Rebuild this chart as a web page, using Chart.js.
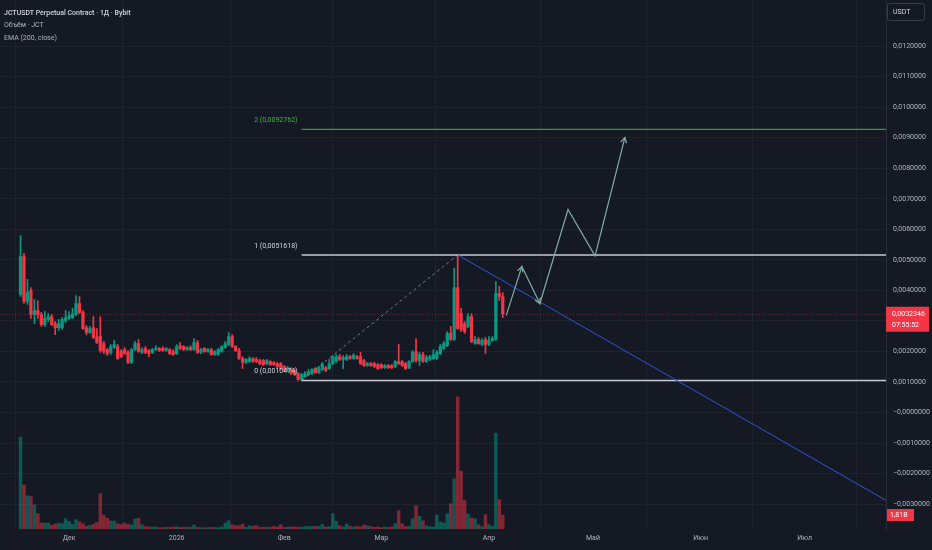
<!DOCTYPE html>
<html>
<head>
<meta charset="utf-8">
<script src="https://cdn.jsdelivr.net/npm/chart.js@4.4.1/dist/chart.umd.min.js"></script>
<style>
  html, body { margin: 0; padding: 0; background: #151924; }
  #wrap { position: relative; width: 932px; height: 550px; overflow: hidden; }
  canvas { display: block; }
  .leg { position: absolute; left: 4px; font-family: Roboto, sans-serif; font-size: 7px; line-height: 10px; color: #b2b5be; white-space: nowrap; }
  .leg.title { color: #d1d4dc; font-weight: 500; }
  #usdt { position: absolute; left: 887px; top: 3px; width: 38px; height: 18px; box-sizing: border-box;
          border: 1px solid #363a45; border-radius: 3px; font-family: Roboto, sans-serif; font-size: 7px;
          line-height: 16px; color: #d1d4dc; padding-left: 5px; }
</style>
</head>
<body>
<div id="wrap">
  <canvas id="chart" width="932" height="550"></canvas>
  <div class="leg title" style="top:8px">JCTUSDT Perpetual Contract · 1Д · Bybit</div>
  <div class="leg" style="top:20px">Объём · JCT</div>
  <div class="leg" style="top:33px">EMA (200, close)</div>
  <div id="usdt">USDT</div>
</div>
<script>
// daily candles, day 0 = 17 Nov 2025
const open = [
  0.00387, 0.00511, 0.00364, 0.00400, 0.00321, 0.00334, 0.00321, 0.00288, 0.00305, 0.00314,
  0.00291, 0.00278, 0.00278, 0.00301, 0.00308, 0.00311, 0.00321, 0.00357, 0.00328, 0.00278,
  0.00262, 0.00278, 0.00249, 0.00249, 0.00226, 0.00206, 0.00197, 0.00213, 0.00216, 0.00200,
  0.00206, 0.00197, 0.00164, 0.00206, 0.00226, 0.00197, 0.00210, 0.00203, 0.00197, 0.00206,
  0.00210, 0.00210, 0.00203, 0.00206, 0.00200, 0.00193, 0.00219, 0.00216, 0.00206, 0.00213,
  0.00206, 0.00229, 0.00197, 0.00210, 0.00200, 0.00206, 0.00190, 0.00190, 0.00200, 0.00213,
  0.00223, 0.00249, 0.00216, 0.00203, 0.00177, 0.00164, 0.00167, 0.00177, 0.00174, 0.00170,
  0.00170, 0.00160, 0.00167, 0.00164, 0.00160, 0.00160, 0.00151, 0.00138, 0.00144, 0.00138,
  0.00128, 0.00108, 0.00118, 0.00124, 0.00128, 0.00144, 0.00131, 0.00141, 0.00147, 0.00144,
  0.00160, 0.00167, 0.00183, 0.00174, 0.00174, 0.00183, 0.00177, 0.00183, 0.00183, 0.00170,
  0.00154, 0.00160, 0.00160, 0.00157, 0.00157, 0.00147, 0.00154, 0.00154, 0.00151, 0.00167,
  0.00167, 0.00160, 0.00147, 0.00167, 0.00200, 0.00170, 0.00190, 0.00167, 0.00174, 0.00177,
  0.00177, 0.00193, 0.00210, 0.00219, 0.00259, 0.00239, 0.00409, 0.00324, 0.00291, 0.00282,
  0.00314, 0.00226, 0.00239, 0.00223, 0.00239, 0.00223, 0.00236, 0.00239, 0.00390, 0.00380
];
const high = [
  0.00580, 0.00521, 0.00436, 0.00409, 0.00370, 0.00367, 0.00328, 0.00331, 0.00324, 0.00321,
  0.00298, 0.00305, 0.00311, 0.00334, 0.00331, 0.00341, 0.00383, 0.00380, 0.00334, 0.00285,
  0.00282, 0.00314, 0.00275, 0.00314, 0.00233, 0.00210, 0.00223, 0.00236, 0.00223, 0.00206,
  0.00213, 0.00203, 0.00210, 0.00233, 0.00239, 0.00213, 0.00216, 0.00206, 0.00210, 0.00219,
  0.00213, 0.00216, 0.00213, 0.00210, 0.00206, 0.00223, 0.00229, 0.00219, 0.00216, 0.00219,
  0.00242, 0.00236, 0.00210, 0.00213, 0.00210, 0.00210, 0.00203, 0.00210, 0.00219, 0.00233,
  0.00262, 0.00255, 0.00219, 0.00210, 0.00183, 0.00177, 0.00183, 0.00180, 0.00180, 0.00174,
  0.00174, 0.00174, 0.00170, 0.00167, 0.00164, 0.00164, 0.00154, 0.00151, 0.00147, 0.00141,
  0.00131, 0.00128, 0.00134, 0.00141, 0.00144, 0.00147, 0.00151, 0.00164, 0.00151, 0.00174,
  0.00187, 0.00190, 0.00190, 0.00187, 0.00190, 0.00187, 0.00193, 0.00187, 0.00197, 0.00174,
  0.00164, 0.00164, 0.00164, 0.00160, 0.00160, 0.00157, 0.00157, 0.00157, 0.00170, 0.00223,
  0.00170, 0.00164, 0.00170, 0.00203, 0.00242, 0.00197, 0.00197, 0.00187, 0.00187, 0.00206,
  0.00203, 0.00223, 0.00233, 0.00265, 0.00282, 0.00472, 0.0051618, 0.00341, 0.00298, 0.00324,
  0.00324, 0.00249, 0.00246, 0.00242, 0.00246, 0.00249, 0.00249, 0.00429, 0.00413, 0.00393
];
const low = [
  0.00380, 0.00357, 0.00354, 0.00308, 0.00291, 0.00308, 0.00282, 0.00282, 0.00298, 0.00285,
  0.00255, 0.00269, 0.00272, 0.00295, 0.00305, 0.00308, 0.00318, 0.00324, 0.00272, 0.00255,
  0.00259, 0.00242, 0.00226, 0.00197, 0.00193, 0.00187, 0.00190, 0.00210, 0.00174, 0.00180,
  0.00190, 0.00160, 0.00160, 0.00203, 0.00197, 0.00193, 0.00193, 0.00183, 0.00193, 0.00203,
  0.00200, 0.00200, 0.00200, 0.00190, 0.00187, 0.00190, 0.00206, 0.00203, 0.00203, 0.00203,
  0.00203, 0.00193, 0.00193, 0.00197, 0.00197, 0.00187, 0.00187, 0.00187, 0.00197, 0.00210,
  0.00219, 0.00213, 0.00200, 0.00174, 0.00144, 0.00160, 0.00164, 0.00164, 0.00164, 0.00157,
  0.00154, 0.00157, 0.00154, 0.00154, 0.00147, 0.00141, 0.00134, 0.00134, 0.00124, 0.00121,
  0.00105, 0.0010474, 0.00115, 0.00121, 0.00124, 0.00128, 0.00128, 0.00138, 0.00134, 0.00141,
  0.00157, 0.00164, 0.00170, 0.00144, 0.00170, 0.00174, 0.00174, 0.00174, 0.00157, 0.00151,
  0.00151, 0.00151, 0.00147, 0.00141, 0.00144, 0.00144, 0.00144, 0.00144, 0.00147, 0.00157,
  0.00151, 0.00141, 0.00144, 0.00164, 0.00164, 0.00154, 0.00164, 0.00164, 0.00170, 0.00174,
  0.00174, 0.00190, 0.00206, 0.00216, 0.00236, 0.00236, 0.00272, 0.00265, 0.00259, 0.00278,
  0.00229, 0.00223, 0.00223, 0.00219, 0.00193, 0.00219, 0.00233, 0.00236, 0.00367, 0.00311
];
const close = [
  0.00511, 0.00364, 0.00393, 0.00321, 0.00334, 0.00321, 0.00288, 0.00308, 0.00314, 0.00288,
  0.00278, 0.00291, 0.00305, 0.00311, 0.00318, 0.00324, 0.00357, 0.00328, 0.00275, 0.00262,
  0.00275, 0.00246, 0.00229, 0.00203, 0.00200, 0.00193, 0.00216, 0.00223, 0.00177, 0.00183,
  0.00193, 0.00164, 0.00206, 0.00226, 0.00200, 0.00206, 0.00197, 0.00193, 0.00206, 0.00210,
  0.00203, 0.00203, 0.00210, 0.00193, 0.00190, 0.00216, 0.00210, 0.00206, 0.00213, 0.00206,
  0.00229, 0.00197, 0.00206, 0.00200, 0.00206, 0.00190, 0.00200, 0.00206, 0.00216, 0.00226,
  0.00249, 0.00216, 0.00203, 0.00177, 0.00164, 0.00174, 0.00177, 0.00167, 0.00167, 0.00160,
  0.00157, 0.00170, 0.00157, 0.00157, 0.00151, 0.00144, 0.00138, 0.00147, 0.00128, 0.00124,
  0.00108, 0.00124, 0.00128, 0.00134, 0.00141, 0.00131, 0.00144, 0.00157, 0.00138, 0.00160,
  0.00180, 0.00183, 0.00174, 0.00180, 0.00183, 0.00177, 0.00187, 0.00177, 0.00160, 0.00154,
  0.00160, 0.00154, 0.00151, 0.00144, 0.00147, 0.00154, 0.00147, 0.00147, 0.00167, 0.00160,
  0.00154, 0.00144, 0.00167, 0.00197, 0.00170, 0.00190, 0.00167, 0.00180, 0.00183, 0.00190,
  0.00197, 0.00216, 0.00226, 0.00259, 0.00239, 0.00409, 0.00275, 0.00272, 0.00265, 0.00314,
  0.00233, 0.00239, 0.00226, 0.00236, 0.00223, 0.00236, 0.00242, 0.00390, 0.00380, 0.0032346
];
// volume, billions JCT
const volumeB = [
  11.9, 5.7, 4.3, 4.2, 3.1, 2.0, 0.77, 0.77, 0.77, 0.47,
  0.64, 0.77, 0.69, 1.33, 0.99, 0.6, 1.2, 0.95, 0.69, 0.34,
  0.47, 0.6, 0.86, 4.56, 1.8, 1.38, 1.03, 1.03, 0.69, 0.56,
  0.77, 0.6, 0.52, 1.29, 1.38, 0.56, 0.3, 0.26, 0.26, 0.26,
  0.17, 0.17, 0.21, 0.21, 0.26, 0.3, 0.21, 0.21, 0.26, 0.21,
  0.52, 0.21, 0.17, 0.17, 0.17, 0.21, 0.21, 0.17, 0.26, 0.77,
  1.07, 0.56, 0.43, 0.43, 0.64, 0.21, 0.43, 0.34, 0.43, 0.21,
  0.21, 0.21, 0.21, 0.34, 0.26, 0.56, 0.21, 0.26, 0.26, 0.26,
  0.26, 0.21, 0.3, 0.34, 0.34, 0.3, 0.34, 0.6, 0.26, 0.3,
  1.98, 1.03, 0.43, 0.26, 0.64, 0.34, 0.26, 0.34, 0.26, 0.52,
  0.43, 0.3, 0.21, 0.26, 0.17, 0.26, 0.21, 0.26, 0.69, 2.37,
  0.69, 0.34, 0.34, 1.33, 3.0, 1.63, 1.07, 0.43, 0.3, 0.26,
  1.81, 0.9, 0.77, 1.98, 3.27, 6.5, 17.1, 7.5, 3.7, 1.94,
  1.42, 1.33, 0.56, 0.3, 1.85, 0.56, 0.34, 12.4, 3.78, 1.81
];

const monthTicks = [14, 45, 76, 104, 135, 165, 196, 226];
const monthLabels = ['Дек', '2026', 'Фев', 'Мар', 'Апр', 'Май', 'Июн', 'Июл'];
const priceTicks = [-0.003, -0.002, -0.001, 0, 0.001, 0.002, 0.003, 0.004, 0.005, 0.006,
                    0.007, 0.008, 0.009, 0.010, 0.011, 0.012];

// drawings
const fibLevels = [0, 1, 2];
const fibPrices = [0.0010474, 0.0051618, 0.0092762];
const fibStartDay = 81;
const swingDays = [81, 126];
const swingPrices = [0.0010474, 0.0051618];
const trendDays = [126, 249.5];
const trendPrices = [0.0051618, -0.00288];
const pathDays = [140, 144.5, 149.7, 157.8, 165.6, 174.2];
const pathPrices = [0.00318, 0.00478, 0.00357, 0.00665, 0.00513, 0.00901];
const countdown = '07:55:52';

const UP = '#089981', DOWN = '#f23645';
const GRID = '#1f2330';
const TXT = '#b2b5be';
const FONT = 'Roboto, sans-serif';

function fmtPrice(v) {
    if (v === 0) return '−0,0000000';
    return v.toFixed(7).replace('.', ',').replace('-', '−');
}

const days = open.map((_, i) => i);
const isUp = days.map(i => close[i] >= open[i]);
const candleColor = isUp.map(u => u ? UP : DOWN);
const volColor = isUp.map(u => u ? 'rgba(8,153,129,0.5)' : 'rgba(242,54,69,0.5)');

function pts(xs, ys) {
    return xs.map((x, i) => ({ x, y: ys[i] }));
}

const lineBase = { type: 'line', pointRadius: 0, fill: false, tension: 0, yAxisID: 'y' };

const fibColors = ['#c5c8d0', '#c5c8d0', '#4caf50'];
const fibSets = fibPrices.map((p, k) => ({
    ...lineBase,
    data: [{ x: fibStartDay, y: p }, { x: 260, y: p }],
    borderColor: fibColors[k],
    borderWidth: k === 2 ? 1 : 1.5
}));

const overlay = {
    id: 'overlay',
    beforeDraw(chart) {
        const ctx = chart.ctx;
        ctx.save();
        ctx.fillStyle = '#151924';
        ctx.fillRect(0, 0, chart.width, chart.height);
        ctx.restore();
    },
    beforeDatasetsDraw(chart) {
        const { ctx, chartArea, scales } = chart;
        const py = scales.y.getPixelForValue(close[close.length - 1]);
        ctx.save();
        ctx.strokeStyle = 'rgba(242,54,69,0.4)';
        ctx.lineWidth = 1;
        ctx.setLineDash([1, 2]);
        ctx.beginPath();
        ctx.moveTo(chartArea.left, Math.round(py) + 0.5);
        ctx.lineTo(chartArea.right, Math.round(py) + 0.5);
        ctx.stroke();
        ctx.restore();
    },
    afterDatasetsDraw(chart) {
        const { ctx, chartArea, scales } = chart;
        const x = scales.x, y = scales.y, v = scales.vol;
        ctx.save();

        // fib labels
        ctx.font = '7px ' + FONT;
        ctx.textAlign = 'right';
        ctx.textBaseline = 'middle';
        fibPrices.forEach((p, k) => {
            ctx.fillStyle = k === 2 ? '#4caf50' : '#d1d4dc';
            ctx.fillText(fibLevels[k] + ' (' + fmtPrice(p) + ')', x.getPixelForValue(fibStartDay) - 4, y.getPixelForValue(p) - 9);
        });

        // arrow heads on path
        ctx.strokeStyle = '#80aba7';
        ctx.lineWidth = 1.2;
        [1, 2, 5].forEach(k => {
            const tx = x.getPixelForValue(pathDays[k]), ty = y.getPixelForValue(pathPrices[k]);
            const fx = x.getPixelForValue(pathDays[k - 1]), fy = y.getPixelForValue(pathPrices[k - 1]);
            const a = Math.atan2(ty - fy, tx - fx);
            ctx.beginPath();
            ctx.moveTo(tx - 6 * Math.cos(a - 0.5), ty - 6 * Math.sin(a - 0.5));
            ctx.lineTo(tx, ty);
            ctx.lineTo(tx - 6 * Math.cos(a + 0.5), ty - 6 * Math.sin(a + 0.5));
            ctx.stroke();
        });

        // last price label
        const last = close[close.length - 1];
        const py = y.getPixelForValue(last);
        ctx.fillStyle = DOWN;
        ctx.fillRect(chartArea.right, py - 7, 43, 25);
        ctx.fillStyle = '#ffffff';
        ctx.textAlign = 'left';
        ctx.fillText(fmtPrice(last), chartArea.right + 6, py);
        ctx.fillText(countdown, chartArea.right + 6, py + 11);

        // last volume label
        const lv = volumeB[volumeB.length - 1];
        const vy = v.getPixelForValue(lv);
        ctx.fillStyle = DOWN;
        ctx.fillRect(chartArea.right + 1, vy - 6, 27, 12);
        ctx.fillStyle = '#ffffff';
        ctx.fillText(lv.toFixed(2).replace('.', ',') + 'B', chartArea.right + 4, vy);

        ctx.restore();
    }
};

new Chart(document.getElementById('chart'), {
    type: 'bar',
    data: {
        datasets: [
            {
                type: 'bar',
                data: days.map(i => ({ x: i, y: volumeB[i] })),
                backgroundColor: volColor,
                barThickness: 2.8,
                grouped: false,
                yAxisID: 'vol',
                order: 5
            },
            {
                type: 'bar',
                data: days.map(i => ({ x: i, y: [low[i], high[i]] })),
                backgroundColor: candleColor,
                barThickness: 1,
                grouped: false,
                yAxisID: 'y',
                order: 4
            },
            {
                type: 'bar',
                data: days.map(i => ({ x: i, y: [open[i], close[i]] })),
                backgroundColor: candleColor,
                barThickness: 2.6,
                minBarLength: 1,
                grouped: false,
                yAxisID: 'y',
                order: 3
            },
            ...fibSets.map(s => ({ ...s, order: 2 })),
            {
                ...lineBase,
                data: pts(swingDays, swingPrices),
                borderColor: '#787b86',
                borderWidth: 1,
                borderDash: [3, 3],
                order: 2
            },
            {
                ...lineBase,
                data: pts(trendDays, trendPrices),
                borderColor: '#2d55d4',
                borderWidth: 1,
                order: 1
            },
            {
                ...lineBase,
                data: pts(pathDays, pathPrices),
                borderColor: '#80aba7',
                borderWidth: 1.2,
                order: 0
            }
        ]
    },
    options: {
        responsive: false,
        animation: false,
        layout: { padding: 0 },
        plugins: { legend: { display: false }, tooltip: { enabled: false } },
        scales: {
            x: {
                type: 'linear',
                min: -5.91,
                max: 249.45,
                offset: false,
                afterBuildTicks: s => { s.ticks = monthTicks.map(value => ({ value })); },
                afterFit: s => { s.height = 21; s.paddingLeft = 0; s.paddingRight = 0; },
                ticks: {
                    autoSkip: false,
                    maxRotation: 0,
                    padding: 5,
                    color: TXT,
                    font: { family: FONT, size: 7 },
                    callback: val => monthLabels[monthTicks.indexOf(val)]
                },
                grid: { color: GRID, drawTicks: false },
                border: { display: false }
            },
            y: {
                position: 'right',
                min: -0.003815,
                max: 0.013511,
                afterBuildTicks: s => { s.ticks = priceTicks.map(value => ({ value })); },
                afterFit: s => { s.width = 46; s.paddingTop = 0; s.paddingBottom = 0; },
                ticks: {
                    padding: 7,
                    color: TXT,
                    font: { family: FONT, size: 7 },
                    callback: val => fmtPrice(val)
                },
                grid: { color: GRID, drawTicks: false },
                border: { display: true, color: '#2a2e39' }
            },
            vol: {
                display: false,
                min: 0,
                max: 68.5
            }
        }
    },
    plugins: [overlay]
});
</script>
</body>
</html>
